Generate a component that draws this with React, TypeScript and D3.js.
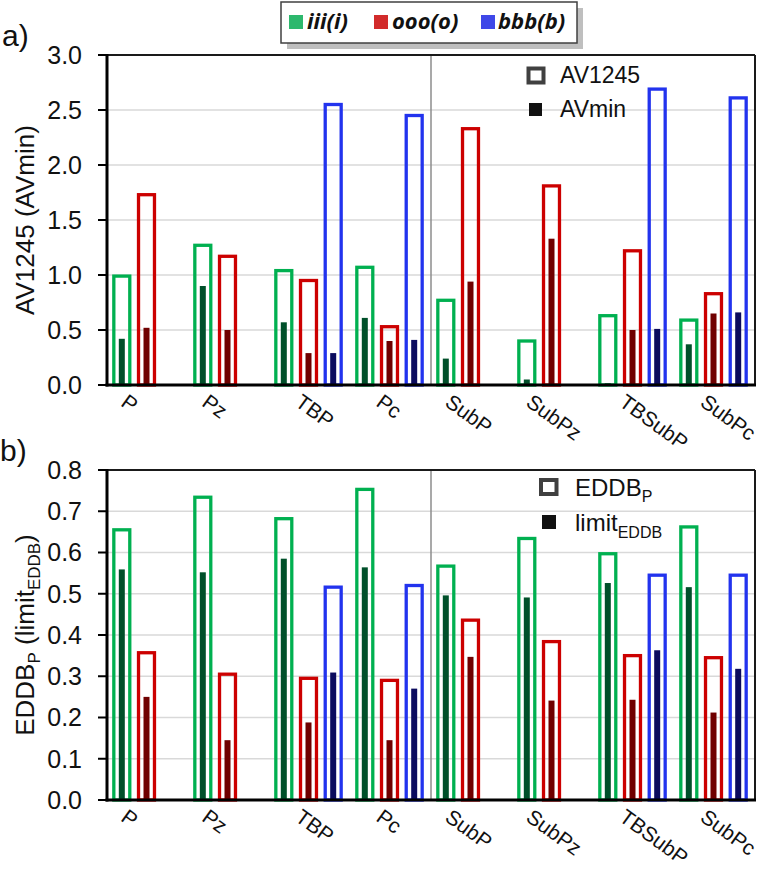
import React from 'react';
import * as d3 from 'd3';

const categories = ['P', 'Pz', 'TBP', 'Pc', 'SubP', 'SubPz', 'TBSubP', 'SubPc'];
const seriesKeys = ['iii', 'ooo', 'bbb'];
const seriesNames = ['iii(i)', 'ooo(o)', 'bbb(b)'];

// Panel a: AV1245 (outline) and AVmin (inner)
const av1245Iii = [0.99, 1.27, 1.04, 1.07, 0.77, 0.40, 0.63, 0.59];
const av1245Ooo = [1.73, 1.17, 0.95, 0.53, 2.33, 1.81, 1.22, 0.83];
const av1245Bbb = [null, null, 2.55, 2.45, null, null, 2.69, 2.61];
const avminIii = [0.42, 0.90, 0.57, 0.61, 0.24, 0.05, 0.015, 0.37];
const avminOoo = [0.52, 0.50, 0.29, 0.40, 0.94, 1.33, 0.50, 0.65];
const avminBbb = [null, null, 0.29, 0.41, null, null, 0.51, 0.66];

// Panel b: EDDB_P (outline) and limit_EDDB (inner)
const eddbIii = [0.655, 0.734, 0.682, 0.753, 0.567, 0.634, 0.597, 0.662];
const eddbOoo = [0.357, 0.305, 0.295, 0.29, 0.436, 0.384, 0.35, 0.345];
const eddbBbb = [null, null, 0.516, 0.52, null, null, 0.545, 0.545];
const limitIii = [0.559, 0.552, 0.585, 0.564, 0.496, 0.491, 0.526, 0.516];
const limitOoo = [0.25, 0.145, 0.188, 0.145, 0.347, 0.241, 0.243, 0.212];
const limitBbb = [null, null, 0.309, 0.27, null, null, 0.363, 0.318];

const ticksA = [0, 0.5, 1.0, 1.5, 2.0, 2.5, 3.0];
const ticksB = [0, 0.1, 0.2, 0.3, 0.4, 0.5, 0.6, 0.7, 0.8];

const outlineColors = ['#00B050', '#CC0000', '#2233EE'];
const fillColors = ['#00502A', '#700000', '#0B0B5E'];
const legendColors = ['#2DB86D', '#D22B2B', '#3F48E8'];

const FONT = 'Liberation Sans, Arial, sans-serif';
const LEFT = 107;
const RIGHT = 755;

type PanelProps = {
  outline: (number | null)[][];
  inner: (number | null)[][];
  yMax: number;
  ticks: number[];
  top: number;
  bottom: number;
  legend: React.ReactNode;
};

function Panel({ outline, inner, yMax, ticks, top, bottom, legend }: PanelProps) {
  const x0 = d3.scaleBand<string>().domain(categories).range([LEFT, RIGHT]).padding(0);
  const x1 = d3
    .scaleBand<string>()
    .domain(seriesKeys)
    .range([-1, x0.bandwidth() - 1])
    .paddingInner(0.22)
    .paddingOuter(0.25);
  const y = d3.scaleLinear().domain([0, yMax]).range([bottom, top]);
  const sw = 3.3;
  const innerW = 6;
  const fmt = d3.format('.1f');

  return (
    <g>
      {ticks
        .filter((t) => t > 0 && t < yMax)
        .map((t) => (
          <line key={'g' + t} x1={LEFT} x2={RIGHT} y1={y(t)} y2={y(t)} stroke="#D9D9D9" strokeWidth={1.6} />
        ))}
      <line x1={x0('SubP')} x2={x0('SubP')} y1={top} y2={bottom} stroke="#8C8C8C" strokeWidth={1.5} />
      {seriesKeys.map((k, si) =>
        categories.map((c, ci) => {
          const v = outline[si][ci];
          if (v == null) return null;
          const bx = (x0(c) as number) + (x1(k) as number);
          return (
            <rect
              key={'o' + k + c}
              x={bx + sw / 2}
              y={y(v)}
              width={x1.bandwidth() - sw}
              height={y(0) - y(v)}
              fill="none"
              stroke={outlineColors[si]}
              strokeWidth={sw}
            />
          );
        })
      )}
      {seriesKeys.map((k, si) =>
        categories.map((c, ci) => {
          const v = inner[si][ci];
          if (v == null) return null;
          const bx = (x0(c) as number) + (x1(k) as number) + x1.bandwidth() / 2;
          return (
            <rect
              key={'i' + k + c}
              x={bx - innerW / 2}
              y={y(v)}
              width={innerW}
              height={y(0) - y(v)}
              fill={fillColors[si]}
            />
          );
        })
      )}
      {/* frame */}
      <line x1={LEFT} x2={RIGHT} y1={top} y2={top} stroke="#1a1a1a" strokeWidth={2} />
      <line x1={RIGHT} x2={RIGHT} y1={top} y2={bottom} stroke="#1a1a1a" strokeWidth={2} />
      <line x1={LEFT} x2={LEFT} y1={top - 1} y2={bottom + 1.5} stroke="#000" strokeWidth={3} />
      <line x1={LEFT - 1.5} x2={RIGHT + 1} y1={bottom} y2={bottom} stroke="#000" strokeWidth={3} />
      {ticks.map((t) => (
        <g key={'t' + t}>
          <line x1={LEFT - 9} x2={LEFT} y1={y(t)} y2={y(t)} stroke="#000" strokeWidth={2} />
          <text x={82} y={y(t)} dy="0.35em" textAnchor="end" fontSize={25} fontFamily={FONT} fill="#111">
            {fmt(t)}
          </text>
        </g>
      ))}
      {categories.map((c, ci) => {
        const xs = seriesKeys
          .map((k, si) => (outline[si][ci] == null ? null : (x0(c) as number) + (x1(k) as number) + x1.bandwidth() / 2))
          .filter((v) => v != null) as number[];
        const cx = d3.mean(xs) as number;
        return (
          <text
            key={'x' + c}
            transform={`translate(${cx - 14.5},${bottom + 20}) rotate(36)`}
            fontSize={21}
            fontFamily={FONT}
            fill="#111"
          >
            {c}
          </text>
        );
      })}
      {legend}
    </g>
  );
}

export default function App() {
  const W = 767;
  const H = 870;
  const topA = 55;
  const botA = 385;
  const topB = 470;
  const botB = 800;
  const legendTextX = [307, 392, 498];
  const legendSqX = [289, 374, 481];

  const legendA = (
    <g fontFamily={FONT} fontSize={23} fill="#111">
      <rect x={528.5} y={68.5} width={15} height={14} fill="none" stroke="#404040" strokeWidth={4} />
      <text x={560} y={83}>AV1245</text>
      <rect x={529} y={103} width={13} height={13} fill="#111" />
      <text x={560} y={117}>AVmin</text>
    </g>
  );
  const legendB = (
    <g fontFamily={FONT} fontSize={24} fill="#111">
      <rect x={541} y={480} width={15.5} height={14} fill="none" stroke="#404040" strokeWidth={4} />
      <text x={575} y={496}>
        EDDB<tspan fontSize={16} dy={6}>P</tspan>
      </text>
      <rect x={542} y={515} width={14} height={14} fill="#111" />
      <text x={575} y={531}>
        limit<tspan fontSize={16} dy={7}>EDDB</tspan>
      </text>
    </g>
  );

  return (
    <svg
      width={W}
      height={H}
      style={{ position: 'absolute', left: 0, top: 0, background: '#fff' }}
      xmlns="http://www.w3.org/2000/svg"
    >
      <rect x={0} y={0} width={W} height={H} fill="#fff" />
      {/* top legend */}
      <rect x={287} y={8} width={296} height={41} fill="#BFBFBF" />
      <rect x={281} y={2} width={296} height={41} fill="#fff" stroke="#404040" strokeWidth={1.5} />
      {seriesNames.map((n, i) => (
        <g key={n}>
          <rect x={legendSqX[i]} y={15} width={14} height={14} fill={legendColors[i]} />
          <text
            x={legendTextX[i]}
            y={29}
            fontFamily="'Open Sans', sans-serif"
            fontWeight="bold"
            fontStyle="italic"
            fontSize={22}
            fill="#111"
          >
            {n}
          </text>
        </g>
      ))}

      <text x={2} y={46} fontSize={30} fontFamily={FONT} fill="#111">a)</text>
      <text x={0} y={461} fontSize={30} fontFamily={FONT} fill="#111">b)</text>

      <text
        transform={`translate(34,${(topA + botA) / 2}) rotate(-90)`}
        textAnchor="middle"
        fontSize={26}
        fontFamily={FONT}
        fill="#111"
      >
        AV1245 (AVmin)
      </text>
      <text
        transform={`translate(34,${(topB + botB) / 2}) rotate(-90)`}
        textAnchor="middle"
        fontSize={26}
        fontFamily={FONT}
        fill="#111"
      >
        EDDB<tspan fontSize={17} dy={6}>P</tspan>
        <tspan dy={-6}> (limit</tspan>
        <tspan fontSize={17} dy={6}>EDDB</tspan>
        <tspan dy={-6}>)</tspan>
      </text>

      <Panel
        outline={[av1245Iii, av1245Ooo, av1245Bbb]}
        inner={[avminIii, avminOoo, avminBbb]}
        yMax={3.0}
        ticks={ticksA}
        top={topA}
        bottom={botA}
        legend={legendA}
      />
      <Panel
        outline={[eddbIii, eddbOoo, eddbBbb]}
        inner={[limitIii, limitOoo, limitBbb]}
        yMax={0.8}
        ticks={ticksB}
        top={topB}
        bottom={botB}
        legend={legendB}
      />
    </svg>
  );
}
